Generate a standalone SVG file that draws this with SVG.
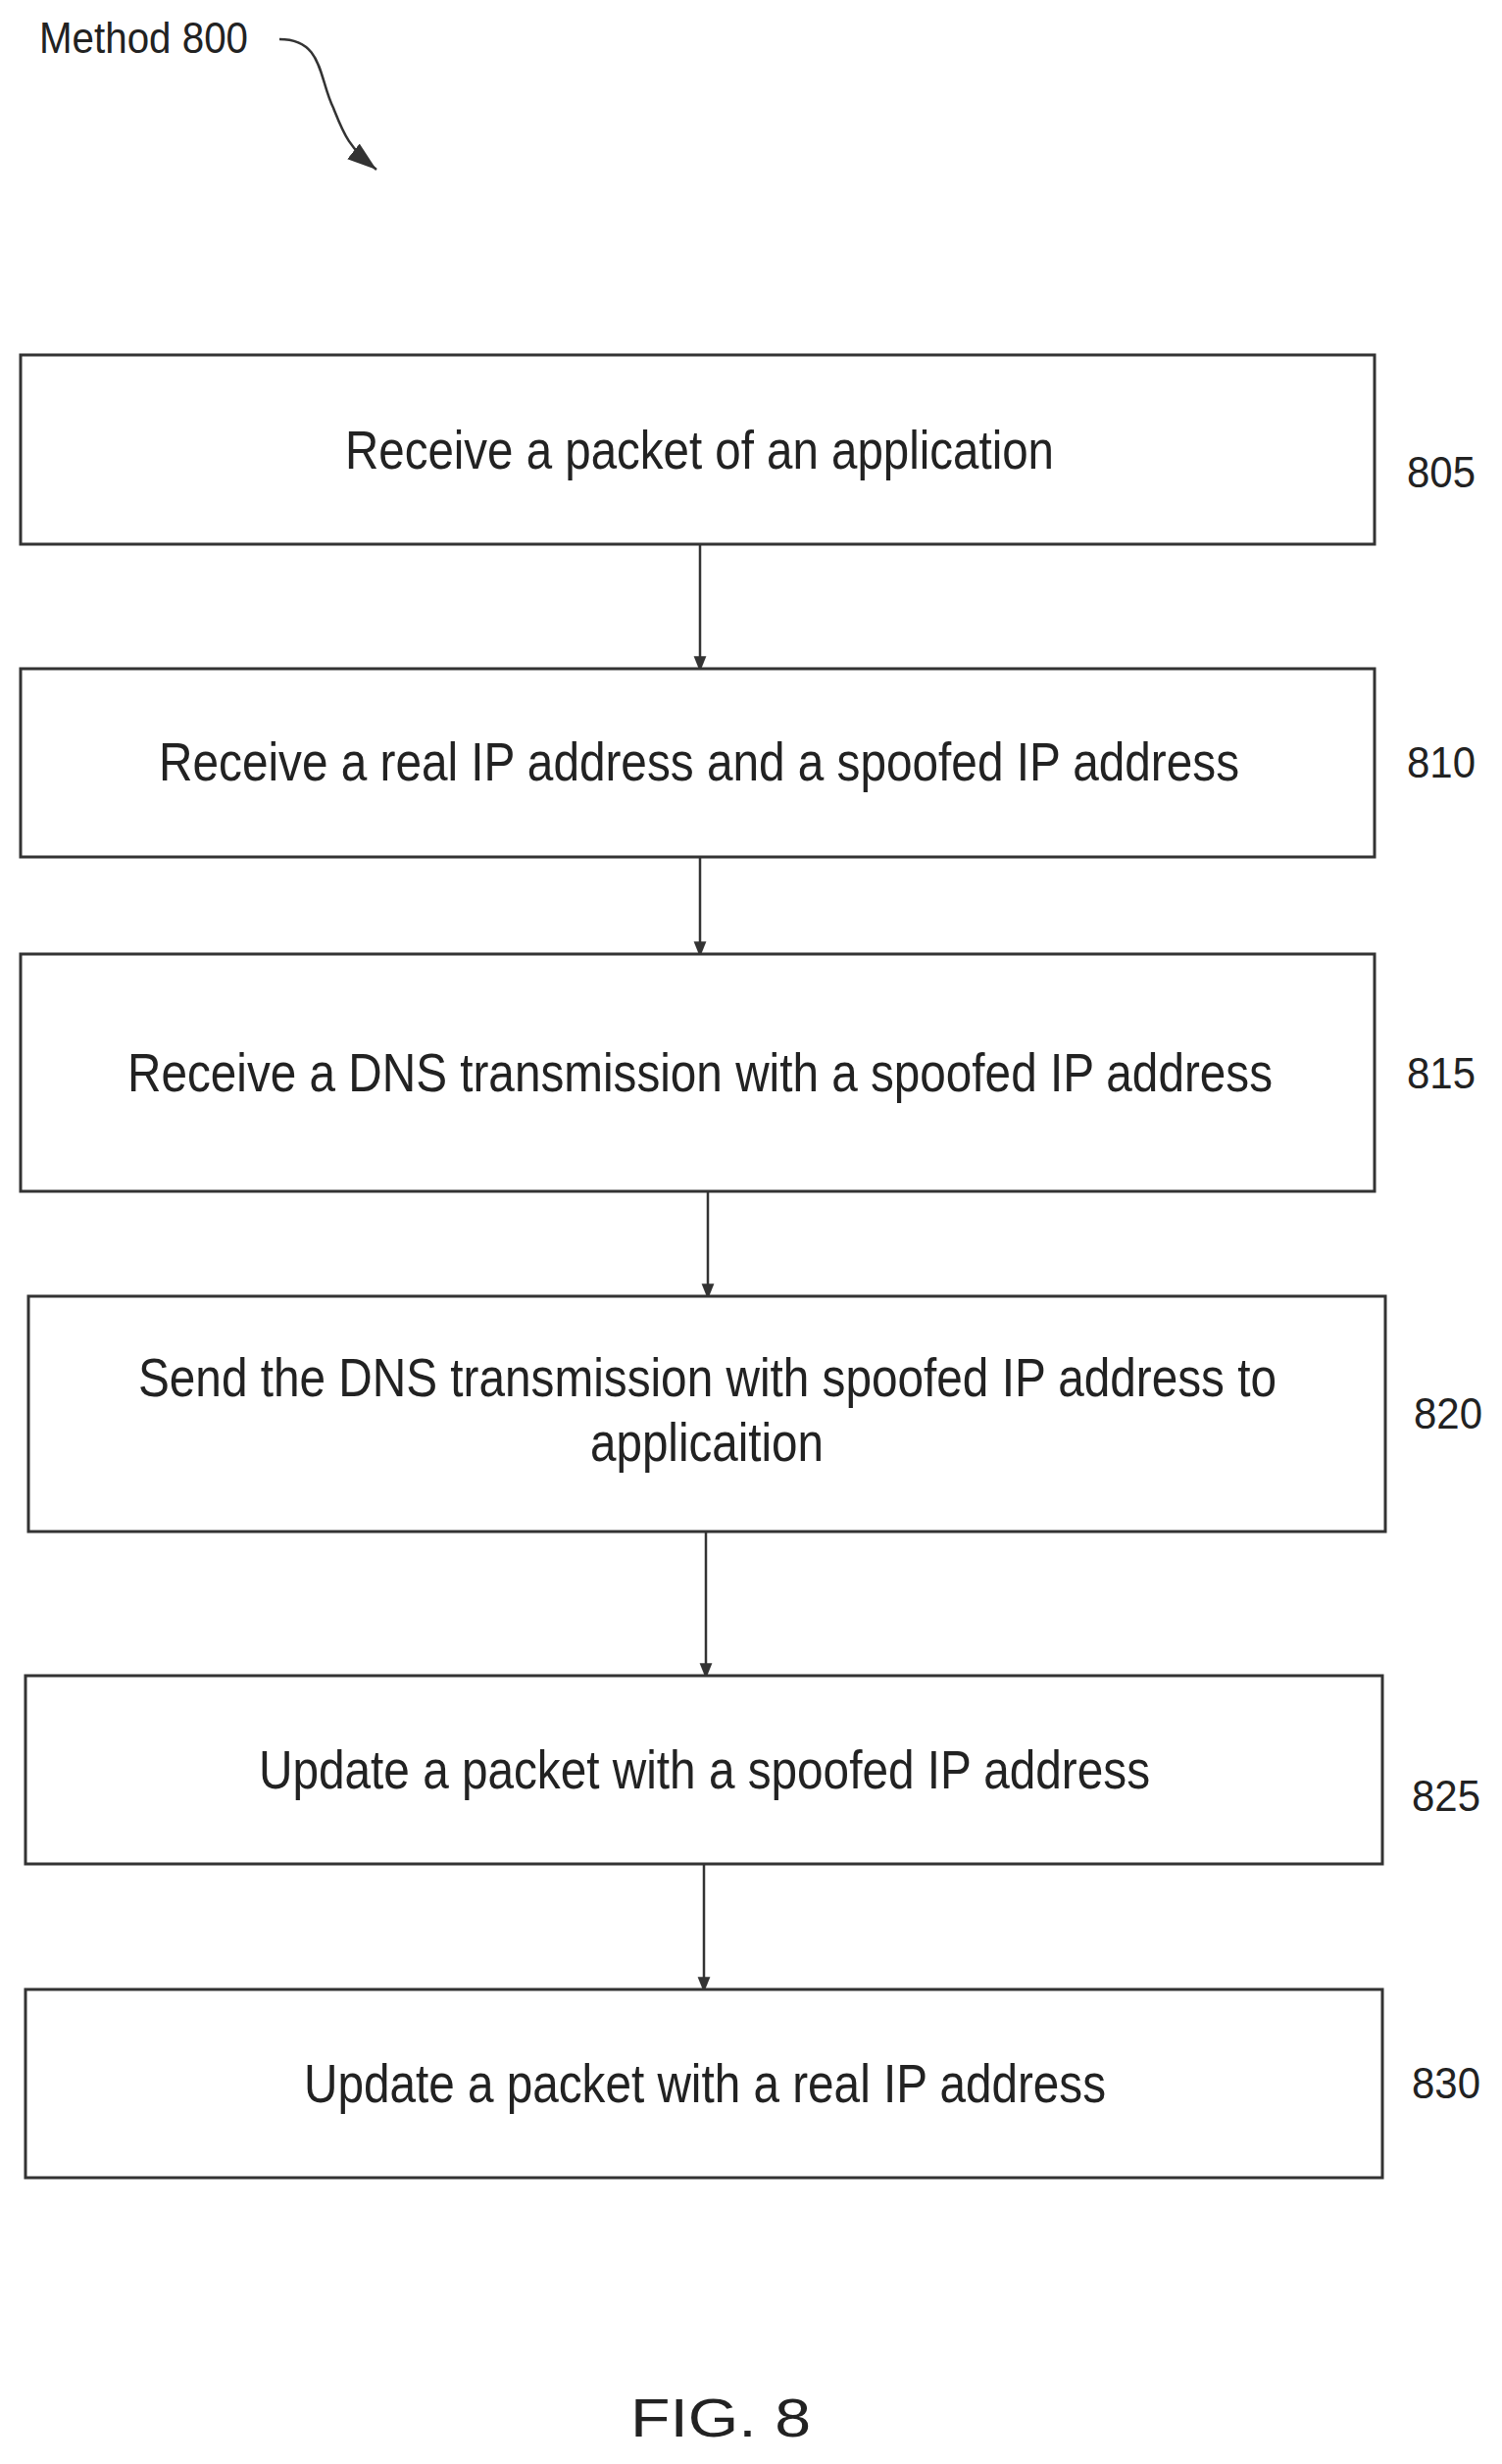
<svg xmlns="http://www.w3.org/2000/svg" width="1532" height="2513" viewBox="0 0 1532 2513">
<style>
.box{fill:#fff;stroke:#333;stroke-width:3}
.t{font-family:"Liberation Sans",Arial,sans-serif;font-size:56px;fill:#222}
.l{font-family:"Liberation Sans",Arial,sans-serif;font-size:44px;fill:#222}
.c{stroke:#333;stroke-width:2.5;fill:none}
</style>
<defs><marker id="a" markerWidth="16" markerHeight="20" refX="16" refY="8" orient="auto" markerUnits="userSpaceOnUse" viewBox="0 0 20 16"><path d="M0,0 L20,8 L0,16 z" fill="#333"/></marker>
<marker id="b" markerWidth="30" markerHeight="24" refX="30" refY="12" orient="auto" markerUnits="userSpaceOnUse" viewBox="0 0 30 24"><path d="M0,2 L30,12 L0,22 z" fill="#333"/></marker></defs>
<text class="l" x="40" y="54" textLength="213" lengthAdjust="spacingAndGlyphs">Method 800</text>
<text class="t" x="643" y="2485" font-size="80" textLength="184" lengthAdjust="spacingAndGlyphs">FIG. 8</text>
<g id="connectors">
<path class="c" d="M285,40 C330,40 325,80 340,110 C350,135 355,150 384,173" marker-end="url(#b)"/>
<line class="c" x1="714" y1="555" x2="714" y2="682" marker-end="url(#a)"/>
<line class="c" x1="714" y1="874" x2="714" y2="973" marker-end="url(#a)"/>
<line class="c" x1="722" y1="1215" x2="722" y2="1322" marker-end="url(#a)"/>
<line class="c" x1="720" y1="1562" x2="720" y2="1709" marker-end="url(#a)"/>
<line class="c" x1="718" y1="1901" x2="718" y2="2029" marker-end="url(#a)"/>
</g>
<g id="n805"><rect class="box" x="21" y="362" width="1381" height="193"/><text class="t" x="352" y="478" textLength="723" lengthAdjust="spacingAndGlyphs">Receive a packet of an application</text><text class="l" x="1435" y="497" textLength="70" lengthAdjust="spacingAndGlyphs">805</text></g>
<g id="n810"><rect class="box" x="21" y="682" width="1381" height="192"/><text class="t" x="162" y="796" textLength="1102" lengthAdjust="spacingAndGlyphs">Receive a real IP address and a spoofed IP address</text><text class="l" x="1435" y="793" textLength="70" lengthAdjust="spacingAndGlyphs">810</text></g>
<g id="n815"><rect class="box" x="21" y="973" width="1381" height="242"/><text class="t" x="130" y="1113" textLength="1168" lengthAdjust="spacingAndGlyphs">Receive a DNS transmission with a spoofed IP address</text><text class="l" x="1435" y="1110" textLength="70" lengthAdjust="spacingAndGlyphs">815</text></g>
<g id="n820"><rect class="box" x="29" y="1322" width="1384" height="240"/><text class="t" x="141" y="1424" textLength="1161" lengthAdjust="spacingAndGlyphs">Send the DNS transmission with spoofed IP address to</text><text class="t" x="602" y="1490" textLength="238" lengthAdjust="spacingAndGlyphs">applicaition</text><text class="l" x="1442" y="1457" textLength="70" lengthAdjust="spacingAndGlyphs">820</text></g>
<g id="n825"><rect class="box" x="26" y="1709" width="1384" height="192"/><text class="t" x="264" y="1824" textLength="909" lengthAdjust="spacingAndGlyphs">Update a packet with a spoofed IP address</text><text class="l" x="1440" y="1847" textLength="70" lengthAdjust="spacingAndGlyphs">825</text></g>
<g id="n830"><rect class="box" x="26" y="2029" width="1384" height="192"/><text class="t" x="310" y="2144" textLength="818" lengthAdjust="spacingAndGlyphs">Update a packet with a real IP address</text><text class="l" x="1440" y="2140" textLength="70" lengthAdjust="spacingAndGlyphs">830</text></g>
</svg>
